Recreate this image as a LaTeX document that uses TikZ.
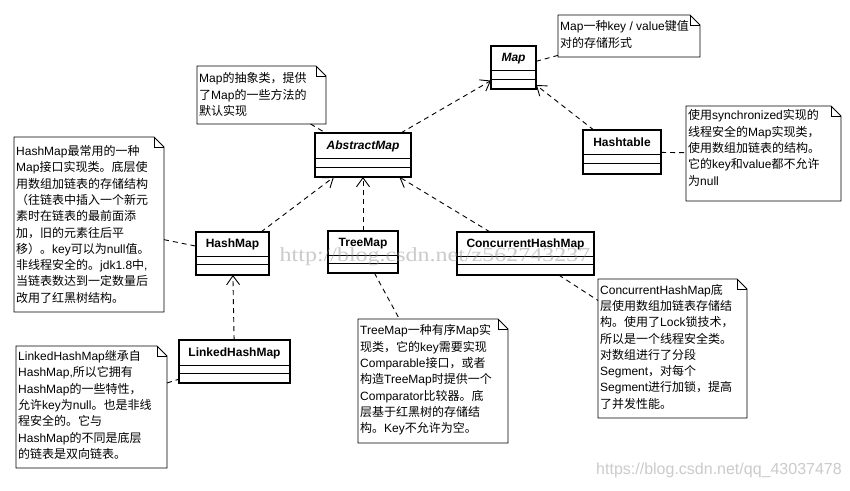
\documentclass[tikz,border=0pt]{standalone}
\usepackage{fontspec}
\usepackage{graphicx}
\setmainfont{Liberation Sans}
\newfontfamily\cjkfont{Noto Sans CJK SC}
\newfontfamily\wmserif{Liberation Serif}
\usetikzlibrary{arrows.meta,calc}

\XeTeXinterchartokenstate=1
\chardef\CJKcls=8
\newcount\cjkcnt
\cjkcnt="3000
\loop
  \XeTeXcharclass\cjkcnt=\CJKcls
  \advance\cjkcnt by 1
\ifnum\cjkcnt<"A000 \repeat
\cjkcnt="FF00
\loop
  \XeTeXcharclass\cjkcnt=\CJKcls
  \advance\cjkcnt by 1
\ifnum\cjkcnt<"FFF0 \repeat
\XeTeXinterchartoks 0 \CJKcls={\begingroup\cjkfont}
\XeTeXinterchartoks 4095 \CJKcls={\begingroup\cjkfont}
\XeTeXinterchartoks \CJKcls 0={\endgroup}
\XeTeXinterchartoks \CJKcls 4095={\endgroup}

\tikzset{
  clsbox/.style={draw=black, line width=2.3pt, fill=white, inner sep=0pt, outer sep=0pt, anchor=north west},
  divider/.style={draw=black, line width=1pt},
  clstitle/.style={inner sep=0pt, font=\fontsize{12}{14}\selectfont\bfseries},
  absttitle/.style={inner sep=0pt, font=\fontsize{12}{14}\selectfont\bfseries\itshape},
  notearea/.style={inner sep=0pt, outer sep=0pt, anchor=north west},
  noteline/.style={draw=black, line width=0.8pt},
  notetext/.style={inner sep=0pt, anchor=north west, align=left, font=\fontsize{12}{16.3}\selectfont},
  conn/.style={draw=black, line width=0.9pt, dash pattern=on 5pt off 4pt},
  realize/.style={conn, -{Straight Barb[length=9pt,width=13pt,line width=0.9pt]}},
  wmark/.style={inner sep=0pt, text=black!45, text opacity=0.45},
}

% name, x1, y1, x2, y2, divider1, divider2, title style, label
\newcommand\umlclass[9]{%
  \node[clsbox, minimum width={(#4-#2)*1pt}, minimum height={(#5-#3)*1pt}] (#1) at (#2,#3) {};
  \draw[divider] ($(#1.north west)+(0,#6)$) -- ($(#1.north east)+(0,#6)$);
  \draw[divider] ($(#1.north west)+(0,#7)$) -- ($(#1.north east)+(0,#7)$);
  \node[#8] (#1-t) at ($(#1.north)+(0,#6/2+0.5)$) {#9};
}
% name, x1, y1, x2, y2, first line centre y, text
\newcommand\umlnote[7]{%
  \node[notearea, minimum width={(#4-#2)*1pt}, minimum height={(#5-#3)*1pt}] (#1) at (#2,#3) {};
  \draw[noteline, fill=white] (#1.north west) -- ($(#1.north east)+(-10,0)$) -- ($(#1.north east)+(0,10)$) -- (#1.south east) -- (#1.south west) -- cycle;
  \draw[noteline] ($(#1.north east)+(-10,0)$) |- ($(#1.north east)+(0,10)$);
  \node[notetext] (#1-text) at (#2+2,#6-6.8) {\strut #7};
}

\begin{document}
\begin{tikzpicture}[x=1pt,y=-1pt]
\fill[white] (0,0) rectangle (850,490);
\useasboundingbox (0,0) rectangle (850,490);

% classes
\umlclass{map}{491}{46}{536}{89}{24}{33}{absttitle}{Map}
\umlclass{abs}{315}{133}{411}{177}{25}{34}{absttitle}{AbstractMap}
\umlclass{ht}{583}{130}{661}{174}{24}{33}{clstitle}{Hashtable}
\umlclass{hm}{196}{232}{269}{275}{24}{32}{clstitle}{HashMap}
\umlclass{tm}{328}{231}{398}{273}{24}{32}{clstitle}{TreeMap}
\umlclass{chm}{457}{232}{594}{275}{24}{32}{clstitle}{ConcurrentHashMap}
\umlclass{lhm}{179}{340}{290}{383}{25}{33}{clstitle}{LinkedHashMap}

% notes
\umlnote{nmap}{558}{15}{700}{57}{26}{Map一种key / value键值\\对的存储形式}
\umlnote{nabs}{197}{66}{326}{124}{78}{Map的抽象类，提供\\了Map的一些方法的\\默认实现}
\umlnote{nht}{686}{106}{841}{201}{115}{使用synchronized实现的\\线程安全的Map实现类，\\使用数组加链表的结构。\\它的key和value都不允许\\为null}
\umlnote{nhm}{14}{137}{164}{312}{150.7}{HashMap最常用的一种\\Map接口实现类。底层使\\用数组加链表的存储结构\\（往链表中插入一个新元\\素时在链表的最前面添\\加，旧的元素往后平\\移）。key可以为null值。\\非线程安全的。jdk1.8中,\\当链表数达到一定数量后\\改用了红黑树结构。}
\umlnote{nlhm}{16}{346}{167}{468}{355.7}{LinkedHashMap继承自\\HashMap,所以它拥有\\HashMap的一些特性，\\允许key为null。也是非线\\程安全的。它与\\HashMap的不同是底层\\的链表是双向链表。}
\umlnote{ntm}{358}{319}{508}{443}{330}{TreeMap一种有序Map实\\现类，它的key需要实现\\Comparable接口，或者\\构造TreeMap时提供一个\\Comparator比较器。底\\层基于红黑树的存储结\\构。Key不允许为空。}
\umlnote{nchm}{598}{279}{747}{418}{289.3}{ConcurrentHashMap底\\层使用数组加链表存储结\\构。使用了Lock锁技术，\\所以是一个线程安全类。\\对数组进行了分段\\Segment，对每个\\Segment进行加锁，提高\\了并发性能。}

% realization arrows
\draw[realize] (abs) -- (map);
\draw[realize] (ht) -- (map);
\draw[realize] (hm) -- (abs);
\draw[realize] (tm) -- (abs);
\draw[realize] (chm) -- (abs);
\draw[realize] (lhm) -- (hm);

% note anchors
\draw[conn] (map) -- (nmap);
\draw[conn] (nabs) -- (abs);
\draw[conn] (ht) -- (nht);
\draw[conn] (nhm) -- (hm);
\draw[conn] (nlhm) -- (lhm);
\draw[conn] (tm) -- (ntm);
\draw[conn] (chm) -- (nchm);

% watermarks
\node[wmark, font=\wmserif\fontsize{20}{20}\selectfont] (wm1) at (435,257) {\scalebox{1.2}[1]{http://blog.csdn.net/z562743237}};
\node[wmark, font=\fontsize{16}{16}\selectfont] (wm2) at (719,470) {https://blog.csdn.net/qq\_43037478};
\end{tikzpicture}
\end{document}
